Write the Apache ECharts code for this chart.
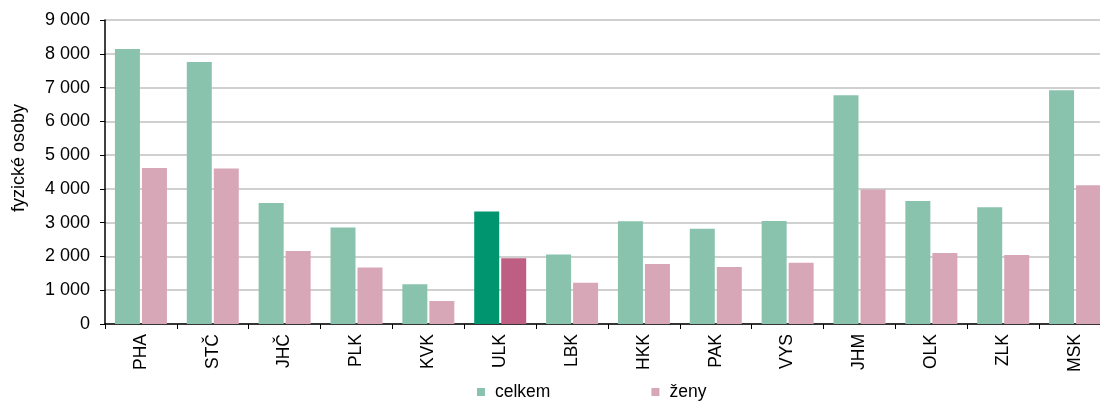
<!DOCTYPE html>
<html><head><meta charset="utf-8">
<script src="https://cdn.jsdelivr.net/npm/echarts@6/dist/echarts.min.js"></script>
<style>html,body{margin:0;padding:0;background:#fff}#c{width:1100px;height:401px}</style>
</head><body><div id="c"></div>
<script>
const categories = ['PHA','STČ','JHČ','PLK','KVK','ULK','LBK','HKK','PAK','VYS','JHM','OLK','ZLK','MSK'];
const celkem = [8140,7760,3580,2860,1180,3330,2060,3040,2820,3050,6770,3640,3460,6920];
const zeny = [4620,4600,2160,1670,680,1950,1220,1780,1690,1810,3980,2100,2040,4110];
const yTicks = [0,1000,2000,3000,4000,5000,6000,7000,8000,9000];
const highlight = 'ULK';

const chart = echarts.init(document.getElementById('c'), null, {renderer:'canvas'});
const font = 'Liberation Sans, Arial, sans-serif';
function mk(vals, hi){
  return vals.map((v,i)=> categories[i]===highlight ? {value:v, itemStyle:{color:hi}} : v);
}
chart.setOption({
  animation:false,
  textStyle:{fontFamily:font},
  grid:{left:105,width:1006,top:20,height:304,outerBoundsMode:'none',containLabel:false},
  legend:{bottom:-5,left:472,itemWidth:8,itemHeight:8,itemGap:101,icon:'rect',
    textStyle:{fontSize:17.5,color:'#000',fontFamily:font,padding:[0,0,0,5]},
    data:['celkem','ženy']},
  xAxis:{type:'category',data:categories,
    axisLine:{lineStyle:{color:'#000',width:1.5}},
    axisTick:{show:true,alignWithLabel:false,length:5,lineStyle:{color:'#000'}},
    axisLabel:{rotate:90,fontSize:17.5,color:'#000',margin:10,fontFamily:font}},
  yAxis:{type:'value',min:yTicks[0],max:yTicks[yTicks.length-1],interval:yTicks[1]-yTicks[0],
    name:'fyzické osoby',nameLocation:'middle',nameGap:77,nameRotate:90,
    nameTextStyle:{fontSize:18,color:'#000',fontFamily:font,padding:[0,0,0,28]},
    axisLine:{show:true,lineStyle:{color:'#000',width:1.5}},
    axisTick:{show:true,length:5,lineStyle:{color:'#000'}},
    axisLabel:{fontSize:18,color:'#000',margin:15,fontFamily:font,
      formatter:v=>String(v).replace(/\B(?=(\d{3})+(?!\d))/g,' ')},
    splitLine:{lineStyle:{color:'#C0C0C0',width:1.5}}},
  series:[
    {name:'celkem',type:'bar',data:mk(celkem,'#00956F'),barWidth:25,barGap:'8%',
      itemStyle:{color:'#89C3AE'}},
    {name:'ženy',type:'bar',data:mk(zeny,'#BD5E82'),barWidth:25,
      itemStyle:{color:'#D8A7B7'}}
  ]
});
</script></body></html>
